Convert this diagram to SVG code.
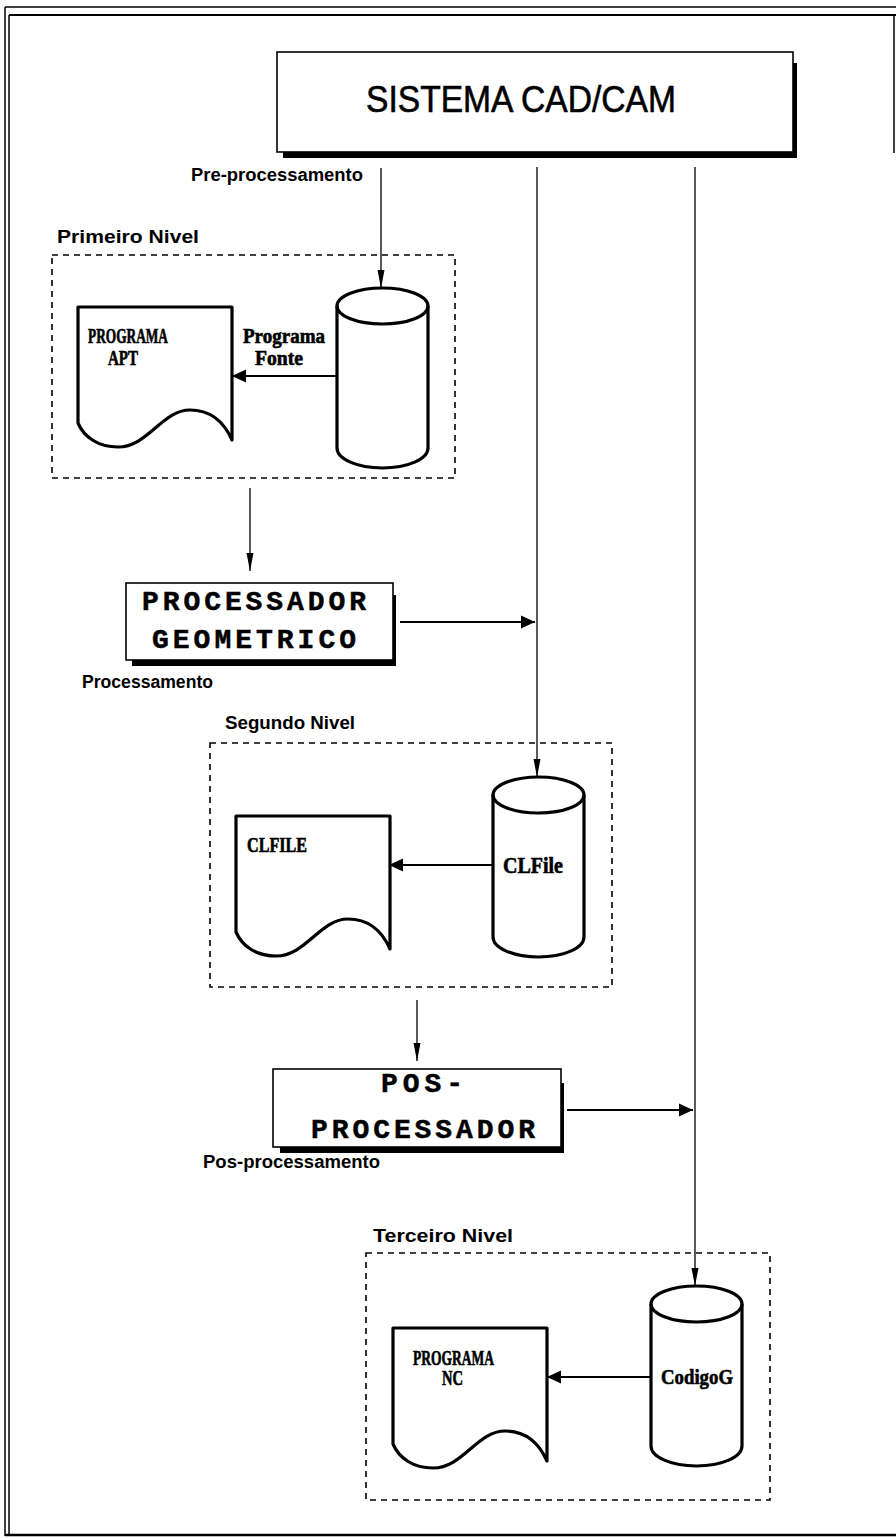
<svg xmlns="http://www.w3.org/2000/svg" xmlns:xlink="http://www.w3.org/1999/xlink" width="896" height="1538" viewBox="0 0 896 1538">
<style>
.bg{fill:#fff}
.frame{fill:none;stroke:#000}
.box{fill:#fff;stroke:#000;stroke-width:1.6}
.shadow{fill:#000}
.dash{fill:none;stroke:#000;stroke-width:1.6;stroke-dasharray:6 5}
.shape{fill:#fff;stroke:#000;stroke-width:3.2;stroke-linejoin:round}
.thin{fill:none;stroke:#000;stroke-width:1.3}
.bold{fill:none;stroke:#000;stroke-width:2}
.lbl{font-family:"Liberation Sans",Arial,sans-serif;font-weight:bold;font-size:18px;fill:#000}
.title{font-family:"Liberation Sans",Arial,sans-serif;font-size:37px;fill:#000;stroke:#000;stroke-width:0.6}
.proc{font-family:"Liberation Mono","Courier New",monospace;font-weight:bold;font-size:28px;fill:#000;stroke:#000;stroke-width:0.5}
.in{font-family:"Liberation Serif","Times New Roman",serif;font-weight:bold;font-size:20px;fill:#000;stroke:#000;stroke-width:0.6}
</style>
<defs>
<marker id="nh" markerUnits="userSpaceOnUse" markerWidth="20" markerHeight="10" refX="18" refY="4" orient="auto">
<path d="M0,0.5 L18,4 L0,7.5 Z" fill="#000"/>
</marker>
<marker id="bh" markerUnits="userSpaceOnUse" markerWidth="16" markerHeight="14" refX="14" refY="7" orient="auto">
<path d="M0,0.5 L14,7 L0,13.5 Z" fill="#000"/>
</marker>
<path id="doc" d="M0,116 V0 H154 V133 C146,115 132,103 112,103 C84,103 70,140 40,140 C20,140 6,130 0,116 Z"/>
<g id="cyl">
<path d="M0,18 A45.5,18 0 0 1 91,18 V160 A45.5,20 0 0 1 0,160 Z"/>
<path d="M0,18 A45.5,18 0 0 0 91,18" fill="none"/>
</g>
</defs>
<rect class="bg" x="0" y="0" width="896" height="1538"/>
<g id="border">
<line class="frame" x1="5" y1="7" x2="5" y2="1536" stroke-width="1.5"/>
<line class="frame" x1="9" y1="15" x2="9" y2="1534" stroke-width="1.5"/>
<line class="frame" x1="5" y1="7" x2="896" y2="7" stroke-width="1.5"/>
<line class="frame" x1="9" y1="15" x2="896" y2="15" stroke-width="2"/>
<line class="frame" x1="5" y1="1535" x2="896" y2="1535" stroke-width="2.5"/>
<line class="frame" x1="894" y1="15" x2="894" y2="153" stroke-width="1.5"/>
</g>
<g id="connectors">
<line class="thin" x1="381" y1="168" x2="381" y2="288" marker-end="url(#nh)"/>
<line class="thin" x1="537" y1="167" x2="537" y2="777" marker-end="url(#nh)"/>
<line class="thin" x1="695" y1="167" x2="695" y2="1286" marker-end="url(#nh)"/>
<line class="thin" x1="250" y1="488" x2="250" y2="571" marker-end="url(#nh)"/>
<line class="thin" x1="417" y1="1000" x2="417" y2="1061" marker-end="url(#nh)"/>
<line class="bold" x1="400" y1="622" x2="535" y2="622" marker-end="url(#bh)"/>
<line class="bold" x1="567" y1="1110" x2="693" y2="1110" marker-end="url(#bh)"/>
<line class="bold" x1="337" y1="376" x2="232" y2="376" marker-end="url(#bh)"/>
<line class="bold" x1="493" y1="865" x2="389" y2="865" marker-end="url(#bh)"/>
<line class="bold" x1="652" y1="1377" x2="547" y2="1377" marker-end="url(#bh)"/>
</g>
<g id="sistema">
<rect class="shadow" x="283" y="152" width="514" height="6"/>
<rect class="shadow" x="792" y="63" width="5" height="95"/>
<rect class="box" x="277" y="52" width="516" height="100"/>
<text class="title" x="366" y="112" textLength="310" lengthAdjust="spacingAndGlyphs">SISTEMA CAD/CAM</text>
</g>
<g id="lbl-pre"><text class="lbl" x="191" y="181" textLength="172" lengthAdjust="spacingAndGlyphs">Pre-processamento</text></g>
<g id="nivel1">
<rect class="dash" x="52" y="255" width="403" height="223"/>
<text class="lbl" x="57" y="243" textLength="142" lengthAdjust="spacingAndGlyphs">Primeiro Nivel</text>
</g>
<g id="doc-apt">
<use href="#doc" class="shape" x="78" y="307"/>
<text class="in" x="88" y="343" textLength="80" lengthAdjust="spacingAndGlyphs">PROGRAMA</text>
<text class="in" x="108" y="365" textLength="30" lengthAdjust="spacingAndGlyphs">APT</text>
</g>
<g id="lbl-fonte">
<text class="in" x="243" y="343" textLength="82" lengthAdjust="spacingAndGlyphs">Programa</text>
<text class="in" x="255" y="365" textLength="48" lengthAdjust="spacingAndGlyphs">Fonte</text>
</g>
<g id="cyl-fonte"><use href="#cyl" class="shape" x="337" y="288"/></g>
<g id="processador">
<rect class="shadow" x="132" y="659" width="264" height="7"/>
<rect class="shadow" x="392" y="595" width="4" height="71"/>
<rect class="box" x="126" y="583" width="267" height="77"/>
<text class="proc" x="142" y="610" textLength="224" lengthAdjust="spacing">PROCESSADOR</text>
<text class="proc" x="152" y="648" textLength="204" lengthAdjust="spacing">GEOMETRICO</text>
</g>
<g id="lbl-proc"><text class="lbl" x="82" y="688" textLength="131" lengthAdjust="spacingAndGlyphs">Processamento</text></g>
<g id="nivel2">
<rect class="dash" x="210" y="743" width="402" height="244"/>
<text class="lbl" x="225" y="729" textLength="130" lengthAdjust="spacingAndGlyphs">Segundo Nivel</text>
</g>
<g id="doc-clfile">
<use href="#doc" class="shape" x="236" y="816"/>
<text class="in" x="247" y="852" textLength="60" lengthAdjust="spacingAndGlyphs">CLFILE</text>
</g>
<g id="cyl-clfile">
<use href="#cyl" class="shape" x="493" y="777"/>
<text class="in" x="503" y="873" textLength="60" lengthAdjust="spacingAndGlyphs" style="font-size:23px">CLFile</text>
</g>
<g id="posprocessador">
<rect class="shadow" x="280" y="1146" width="284" height="7"/>
<rect class="shadow" x="560" y="1083" width="4" height="70"/>
<rect class="box" x="273" y="1069" width="288" height="78"/>
<text class="proc" x="381" y="1092" textLength="82" lengthAdjust="spacing">POS-</text>
<text class="proc" x="311" y="1138" textLength="224" lengthAdjust="spacing">PROCESSADOR</text>
</g>
<g id="lbl-pos"><text class="lbl" x="203" y="1168" textLength="177" lengthAdjust="spacingAndGlyphs">Pos-processamento</text></g>
<g id="nivel3">
<rect class="dash" x="366" y="1253" width="404" height="247"/>
<text class="lbl" x="373" y="1242" textLength="140" lengthAdjust="spacingAndGlyphs">Terceiro Nivel</text>
</g>
<g id="doc-nc">
<use href="#doc" class="shape" x="393" y="1328"/>
<text class="in" x="413" y="1365" textLength="81" lengthAdjust="spacingAndGlyphs">PROGRAMA</text>
<text class="in" x="442" y="1385" textLength="21" lengthAdjust="spacingAndGlyphs">NC</text>
</g>
<g id="cyl-codigo">
<use href="#cyl" class="shape" x="651" y="1286"/>
<text class="in" x="661" y="1384" textLength="72" lengthAdjust="spacingAndGlyphs" style="font-size:22px">CodigoG</text>
</g>
</svg>
